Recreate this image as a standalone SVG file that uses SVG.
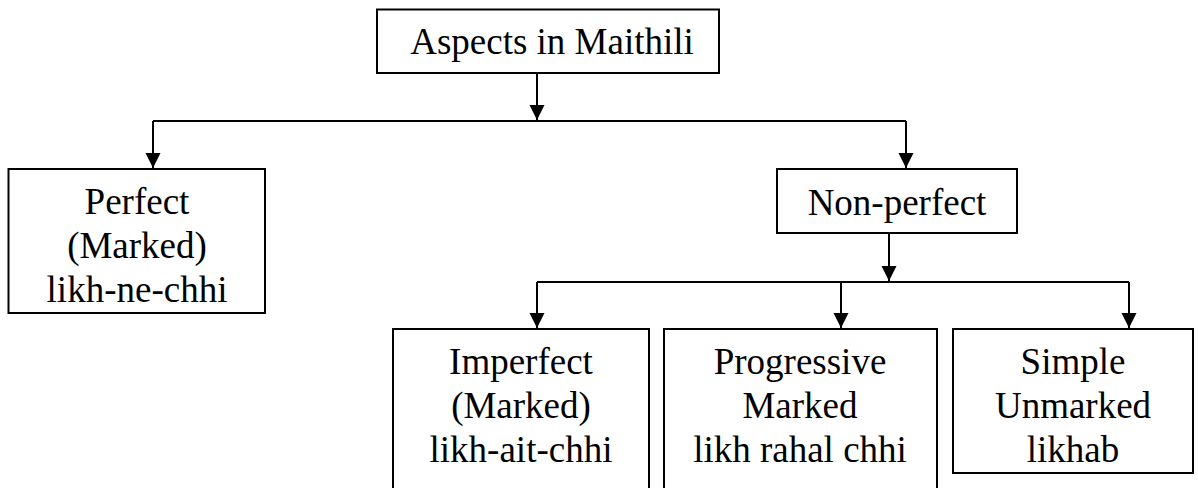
<svg xmlns="http://www.w3.org/2000/svg" width="1198" height="488" viewBox="0 0 1198 488">
<style>
.box{fill:#fff;stroke:#000;stroke-width:2}
.t{font-family:"Liberation Serif","Times New Roman",serif;font-size:37px;fill:#000;text-anchor:middle}
.c{fill:none;stroke:#000;stroke-width:2}
</style>
<defs>
<marker id="ah" markerUnits="userSpaceOnUse" markerWidth="16" markerHeight="16" viewBox="0 0 16 16" refX="15" refY="8" orient="auto">
<path d="M0,0.5 L15,8 L0,15.5 Z" fill="#000"/>
</marker>
</defs>
<g id="connectors">
<path class="c" d="M537,73 V120" marker-end="url(#ah)"/>
<path class="c" d="M153,121 H906"/>
<path class="c" d="M153,121 V168" marker-end="url(#ah)"/>
<path class="c" d="M906,121 V168" marker-end="url(#ah)"/>
<path class="c" d="M889,233 V281" marker-end="url(#ah)"/>
<path class="c" d="M537,282 H1129"/>
<path class="c" d="M537,282 V328" marker-end="url(#ah)"/>
<path class="c" d="M841,282 V328" marker-end="url(#ah)"/>
<path class="c" d="M1129,282 V328" marker-end="url(#ah)"/>
</g>
<g id="aspects">
<rect class="box" x="377" y="9.5" width="342" height="63.5"/>
<text class="t" x="552" y="54">Aspects in Maithili</text>
</g>
<g id="perfect">
<rect class="box" x="8.5" y="169" width="256.5" height="144"/>
<text class="t" x="137" y="214">Perfect</text>
<text class="t" x="137" y="258">(Marked)</text>
<text class="t" x="137" y="302">likh-ne-chhi</text>
</g>
<g id="nonperfect">
<rect class="box" x="777" y="169" width="240" height="64"/>
<text class="t" x="897" y="215">Non-perfect</text>
</g>
<g id="imperfect">
<rect class="box" x="393" y="329" width="256" height="170"/>
<text class="t" x="521" y="374">Imperfect</text>
<text class="t" x="521" y="418">(Marked)</text>
<text class="t" x="521" y="462">likh-ait-chhi</text>
</g>
<g id="progressive">
<rect class="box" x="664" y="329" width="273" height="170"/>
<text class="t" x="800" y="374">Progressive</text>
<text class="t" x="800" y="418">Marked</text>
<text class="t" x="800" y="462">likh rahal chhi</text>
</g>
<g id="simple">
<rect class="box" x="953" y="329" width="240" height="144"/>
<text class="t" x="1073" y="374">Simple</text>
<text class="t" x="1073" y="418">Unmarked</text>
<text class="t" x="1073" y="462">likhab</text>
</g>
</svg>
